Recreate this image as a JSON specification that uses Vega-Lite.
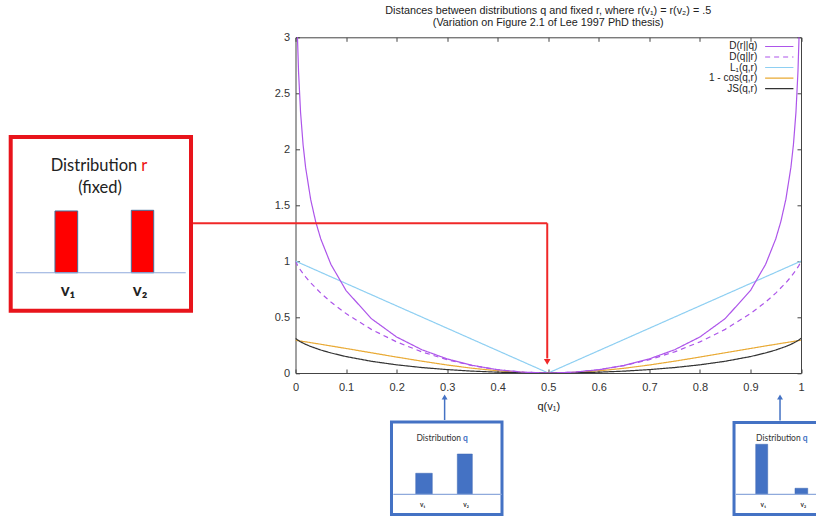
{
 "$schema": "https://vega.github.io/schema/vega-lite/v6.json",
 "width": 505.5,
 "height": 335.7,
 "autosize": {"type": "none"},
 "padding": {"left": 295.5, "top": 37.3, "right": 15, "bottom": 144},
 "background": "white",
 "title": {
  "text": ["Distances between distributions q and fixed r, where r(v₁) =  r(v₂) = .5", "(Variation on Figure 2.1 of Lee 1997 PhD thesis)"],
  "anchor": "middle", "fontSize": 10.8, "fontWeight": "normal", "font": "Liberation Sans", "color": "#222", "offset": 4, "lineHeight": 11.5
 },
 "config": {"view": {"stroke": "#444", "strokeWidth": 1}, "font": "Liberation Sans"},
 "encoding": {
  "x": {"field": "x", "type": "quantitative", "scale": {"domain": [0, 1], "nice": false, "zero": false}, "axis": null},
  "y": {"field": "y", "type": "quantitative", "scale": {"domain": [0, 3], "nice": false, "zero": false}, "axis": null}
 },
 "resolve": {"axis": {"x": "independent", "y": "independent"}},
 "layer": [
  {
   "data": {"values": [
    {"x": 0, "qr": 1, "l1": 1, "cos": 0.2929, "js": 0.3113},
    {"x": 0.001, "rq": 3.98, "qr": 0.9886, "l1": 0.998, "js": 0.3064},
    {"x": 0.004, "rq": 2.986, "qr": 0.962, "js": 0.2957},
    {"x": 0.006, "rq": 2.695},
    {"x": 0.01, "rq": 2.329, "qr": 0.919, "l1": 0.98, "cos": 0.2858, "js": 0.2787},
    {"x": 0.015, "rq": 2.04},
    {"x": 0.02, "rq": 1.837, "qr": 0.859, "l1": 0.96, "cos": 0.2786, "js": 0.2561},
    {"x": 0.03, "rq": 1.551, "qr": 0.806, "l1": 0.94, "cos": 0.2714, "js": 0.237},
    {"x": 0.04, "rq": 1.351},
    {"x": 0.05, "rq": 1.198, "qr": 0.714, "l1": 0.9, "cos": 0.2567, "js": 0.2054},
    {"x": 0.07, "rq": 0.971, "qr": 0.634, "l1": 0.86, "cos": 0.2418, "js": 0.1792},
    {"x": 0.1, "rq": 0.737, "qr": 0.531, "l1": 0.8, "cos": 0.2191, "js": 0.1468},
    {"x": 0.15, "rq": 0.486, "qr": 0.39, "l1": 0.7, "cos": 0.1808, "js": 0.1048},
    {"x": 0.2, "rq": 0.322, "qr": 0.278, "l1": 0.6, "cos": 0.1425, "js": 0.0731},
    {"x": 0.25, "rq": 0.208, "qr": 0.189, "l1": 0.5, "cos": 0.1056, "js": 0.0488},
    {"x": 0.3, "rq": 0.126, "qr": 0.119, "l1": 0.4, "cos": 0.0715, "js": 0.0304},
    {"x": 0.35, "rq": 0.068, "qr": 0.066, "l1": 0.3, "cos": 0.0422, "js": 0.0167},
    {"x": 0.4, "rq": 0.029, "qr": 0.029, "l1": 0.2, "cos": 0.0194, "js": 0.0073},
    {"x": 0.45, "rq": 0.0072, "qr": 0.0072, "l1": 0.1, "cos": 0.005, "js": 0.0018},
    {"x": 0.5, "rq": 0, "qr": 0, "l1": 0, "cos": 0, "js": 0},
    {"x": 0.55, "rq": 0.0072, "qr": 0.0072, "l1": 0.1, "cos": 0.005, "js": 0.0018},
    {"x": 0.6, "rq": 0.029, "qr": 0.029, "l1": 0.2, "cos": 0.0194, "js": 0.0073},
    {"x": 0.65, "rq": 0.068, "qr": 0.066, "l1": 0.3, "cos": 0.0422, "js": 0.0167},
    {"x": 0.7, "rq": 0.126, "qr": 0.119, "l1": 0.4, "cos": 0.0715, "js": 0.0304},
    {"x": 0.75, "rq": 0.208, "qr": 0.189, "l1": 0.5, "cos": 0.1056, "js": 0.0488},
    {"x": 0.8, "rq": 0.322, "qr": 0.278, "l1": 0.6, "cos": 0.1425, "js": 0.0731},
    {"x": 0.85, "rq": 0.486, "qr": 0.39, "l1": 0.7, "cos": 0.1808, "js": 0.1048},
    {"x": 0.9, "rq": 0.737, "qr": 0.531, "l1": 0.8, "cos": 0.2191, "js": 0.1468},
    {"x": 0.93, "rq": 0.971, "qr": 0.634, "l1": 0.86, "cos": 0.2418, "js": 0.1792},
    {"x": 0.95, "rq": 1.198, "qr": 0.714, "l1": 0.9, "cos": 0.2567, "js": 0.2054},
    {"x": 0.96, "rq": 1.351},
    {"x": 0.97, "rq": 1.551, "qr": 0.806, "l1": 0.94, "cos": 0.2714, "js": 0.237},
    {"x": 0.98, "rq": 1.837, "qr": 0.859, "l1": 0.96, "cos": 0.2786, "js": 0.2561},
    {"x": 0.985, "rq": 2.04},
    {"x": 0.99, "rq": 2.329, "qr": 0.919, "l1": 0.98, "cos": 0.2858, "js": 0.2787},
    {"x": 0.994, "rq": 2.695},
    {"x": 0.996, "rq": 2.986, "qr": 0.962, "js": 0.2957},
    {"x": 0.999, "rq": 3.98, "qr": 0.9886, "l1": 0.998, "js": 0.3064},
    {"x": 1, "qr": 1, "l1": 1, "cos": 0.2929, "js": 0.3113}
   ]},
   "transform": [
    {"fold": ["rq", "qr", "l1", "cos", "js"], "as": ["series", "y"]},
    {"filter": "isValid(datum.y)"}
   ],
   "mark": {"type": "line", "clip": true, "strokeWidth": 1.2, "invalid": "filter"},
   "encoding": {
    "x": {"field": "x", "type": "quantitative", "scale": {"domain": [0, 1], "nice": false, "zero": false},
     "axis": {"orient": "bottom", "values": [0, 0.1, 0.2, 0.3, 0.4, 0.5, 0.6, 0.7, 0.8, 0.9, 1], "format": ".1~f", "title": "q(v₁)",
      "tickSize": -4, "domain": false, "grid": false, "labelFlush": false, "labelOverlap": false, "labelPadding": 12,
      "labelFontSize": 11, "labelColor": "#333", "tickColor": "#444", "titleFontSize": 11, "titleFontWeight": "normal", "titleColor": "#222", "titlePadding": 8}},
    "y": {"field": "y", "type": "quantitative", "scale": {"domain": [0, 3], "nice": false, "zero": false},
     "axis": {"orient": "left", "values": [0, 0.5, 1, 1.5, 2, 2.5, 3], "format": ".1~f", "title": null,
      "tickSize": -4, "domain": false, "grid": false, "labelFlush": false, "labelOverlap": false, "labelPadding": 10,
      "labelFontSize": 11, "labelColor": "#333", "tickColor": "#444"}},
    "color": {"field": "series", "type": "nominal", "scale": {"domain": ["rq", "qr", "l1", "cos", "js"], "range": ["#ad55ea", "#ad55ea", "#8ecff2", "#e9aa35", "#333333"]}, "legend": null},
    "strokeDash": {"field": "series", "type": "nominal", "scale": {"domain": ["rq", "qr", "l1", "cos", "js"], "range": [[1, 0], [5, 4], [1, 0], [1, 0], [1, 0]]}, "legend": null}
   }
  },
  {
   "data": {"values": [{"x": 0, "y": 0}]},
   "mark": {"type": "point", "opacity": 0},
   "encoding": {
    "x": {"field": "x", "type": "quantitative", "scale": {"domain": [0, 1], "nice": false, "zero": false},
     "axis": {"orient": "top", "values": [0, 0.1, 0.2, 0.3, 0.4, 0.5, 0.6, 0.7, 0.8, 0.9, 1], "labels": false, "title": null, "tickSize": -4, "domain": false, "grid": false, "tickColor": "#444"}},
    "y": {"field": "y", "type": "quantitative", "scale": {"domain": [0, 3], "nice": false, "zero": false},
     "axis": {"orient": "right", "values": [0, 0.5, 1, 1.5, 2, 2.5, 3], "labels": false, "title": null, "tickSize": -4, "domain": false, "grid": false, "tickColor": "#444"}}
   }
  },
  {
   "data": {"values": [
    {"series": "rq", "label": "D(r||q)", "x": 0.9135, "y": 2.918},
    {"series": "qr", "label": "D(q||r)", "x": 0.9135, "y": 2.824},
    {"series": "l1", "label": "L₁(q,r)", "x": 0.9135, "y": 2.73},
    {"series": "cos", "label": "1 - cos(q,r)", "x": 0.9135, "y": 2.636},
    {"series": "js", "label": "JS(q,r)", "x": 0.9135, "y": 2.542}
   ]},
   "mark": {"type": "text", "align": "right", "baseline": "middle", "fontSize": 10, "color": "#222", "font": "Liberation Sans"},
   "encoding": {"text": {"field": "label"}}
  },
  {
   "data": {"values": [
    {"series": "rq", "x": 0.929, "x2": 0.985, "y": 2.918},
    {"series": "qr", "x": 0.929, "x2": 0.985, "y": 2.824},
    {"series": "l1", "x": 0.929, "x2": 0.985, "y": 2.73},
    {"series": "cos", "x": 0.929, "x2": 0.985, "y": 2.636},
    {"series": "js", "x": 0.929, "x2": 0.985, "y": 2.542}
   ]},
   "mark": {"type": "rule", "strokeWidth": 1.2},
   "encoding": {
    "x2": {"field": "x2"},
    "color": {"field": "series", "type": "nominal", "legend": null},
    "strokeDash": {"field": "series", "type": "nominal", "legend": null}
   }
  },
  {
   "data": {"values": [{"x": -0.5634, "x2": -0.2067, "y": 2.109, "y2": 0.557}]},
   "mark": {"type": "rect", "fill": "white", "stroke": "#e8141b", "strokeWidth": 4},
   "encoding": {"x2": {"field": "x2"}, "y2": {"field": "y2"}}
  },
  {
   "data": {"values": [
    {"x": 0.1899, "x2": 0.4085, "y": -0.4379, "y2": -1.2645},
    {"x": 0.8675, "x2": 1.06, "y": -0.4424, "y2": -1.2645}
   ]},
   "mark": {"type": "rect", "fill": "white", "stroke": "#4472c4", "strokeWidth": 3},
   "encoding": {"x2": {"field": "x2"}, "y2": {"field": "y2"}}
  },
  {
   "data": {"values": [
    {"x": -0.4758, "x2": -0.4309, "y": 1.448, "y2": 0.896},
    {"x": -0.3248, "x2": -0.2805, "y": 1.454, "y2": 0.896}
   ]},
   "mark": {"type": "rect", "fill": "#ff0000", "stroke": "#41719c", "strokeWidth": 1},
   "encoding": {"x2": {"field": "x2"}, "y2": {"field": "y2"}}
  },
  {
   "data": {"values": [
    {"x": 0.2378, "x2": 0.2706, "y": -0.896, "y2": -1.084},
    {"x": 0.3201, "x2": 0.3498, "y": -0.724, "y2": -1.084},
    {"x": 0.9104, "x2": 0.9341, "y": -0.637, "y2": -1.084},
    {"x": 0.9881, "x2": 1.0133, "y": -1.03, "y2": -1.084}
   ]},
   "mark": {"type": "rect", "fill": "#4472c4", "stroke": "#3a64b0", "strokeWidth": 0.5},
   "encoding": {"x2": {"field": "x2"}, "y2": {"field": "y2"}}
  },
  {
   "data": {"values": [
    {"x": -0.5529, "x2": -0.2172, "y": 0.896, "y2": 0.896},
    {"x": 0.1935, "x2": 0.4079, "y": -1.084, "y2": -1.084},
    {"x": 0.8714, "x2": 1.06, "y": -1.084, "y2": -1.084}
   ]},
   "mark": {"type": "rule", "stroke": "#8faadc", "strokeWidth": 1.2},
   "encoding": {"x2": {"field": "x2"}, "y2": {"field": "y2"}}
  },
  {
   "data": {"values": [
    {"x": -0.2027, "x2": 0.498, "y": 1.338, "y2": 1.338},
    {"x": 0.498, "x2": 0.498, "y": 1.338, "y2": 0.13}
   ]},
   "mark": {"type": "rule", "stroke": "#f02828", "strokeWidth": 2},
   "encoding": {"x2": {"field": "x2"}, "y2": {"field": "y2"}}
  },
  {
   "data": {"values": [
    {"x": 0.295, "x2": 0.295, "y": -0.42, "y2": -0.22},
    {"x": 0.9585, "x2": 0.9585, "y": -0.425, "y2": -0.22}
   ]},
   "mark": {"type": "rule", "stroke": "#4472c4", "strokeWidth": 1.5},
   "encoding": {"x2": {"field": "x2"}, "y2": {"field": "y2"}}
  },
  {
   "data": {"values": [{"x": 0.498, "y": 0.1}]},
   "mark": {"type": "point", "shape": "triangle-down", "filled": true, "color": "#f02828", "size": 45, "opacity": 1},
   "encoding": {}
  },
  {
   "data": {"values": [{"x": 0.295, "y": -0.215}, {"x": 0.9585, "y": -0.215}]},
   "mark": {"type": "point", "shape": "triangle-up", "filled": true, "color": "#4472c4", "size": 35, "opacity": 1},
   "encoding": {}
  },
  {
   "data": {"values": [{"x": -0.3867, "y": 1.606, "t": "(fixed)"}]},
   "mark": {"type": "text", "align": "center", "baseline": "alphabetic", "font": "Lato", "fontSize": 16.5, "color": "#222"},
   "encoding": {"text": {"field": "t"}}
  },
  {
   "data": {"values": [
    {"x": -0.4501, "y": 0.691, "t": "v₁"},
    {"x": -0.3076, "y": 0.691, "t": "v₂"}
   ]},
   "mark": {"type": "text", "align": "center", "baseline": "alphabetic", "font": "Lato", "fontSize": 17, "fontWeight": "bold", "color": "#222"},
   "encoding": {"text": {"field": "t"}}
  },
  {
   "data": {"values": [{"x": -0.313, "y": 1.808, "t": "Distribution"}]},
   "mark": {"type": "text", "align": "right", "baseline": "alphabetic", "font": "Lato", "fontSize": 16.5, "color": "#222"},
   "encoding": {"text": {"field": "t"}}
  },
  {
   "data": {"values": [{"x": -0.305, "y": 1.808, "t": "r"}]},
   "mark": {"type": "text", "align": "left", "baseline": "alphabetic", "font": "Lato", "fontSize": 16.5, "color": "#ee1111"},
   "encoding": {"text": {"field": "t"}}
  },
  {
   "data": {"values": [{"x": 0.3274, "y": -0.605, "t": "Distribution"}, {"x": 0.9994, "y": -0.605, "t": "Distribution"}]},
   "mark": {"type": "text", "align": "right", "baseline": "alphabetic", "font": "Lato", "fontSize": 8.5, "color": "#333"},
   "encoding": {"text": {"field": "t"}}
  },
  {
   "data": {"values": [{"x": 0.3314, "y": -0.605, "t": "q"}, {"x": 1.0034, "y": -0.605, "t": "q"}]},
   "mark": {"type": "text", "align": "left", "baseline": "alphabetic", "font": "Lato", "fontSize": 8.5, "fontWeight": "bold", "color": "#4472c4"},
   "encoding": {"text": {"field": "t"}}
  },
  {
   "data": {"values": [
    {"x": 0.2516, "y": -1.2, "t": "v₁"},
    {"x": 0.3373, "y": -1.2, "t": "v₂"},
    {"x": 0.9254, "y": -1.2, "t": "v₁"},
    {"x": 1.0045, "y": -1.2, "t": "v₂"}
   ]},
   "mark": {"type": "text", "align": "center", "baseline": "alphabetic", "font": "Lato", "fontSize": 6.5, "fontWeight": "bold", "color": "#333"},
   "encoding": {"text": {"field": "t"}}
  }
 ]
}
